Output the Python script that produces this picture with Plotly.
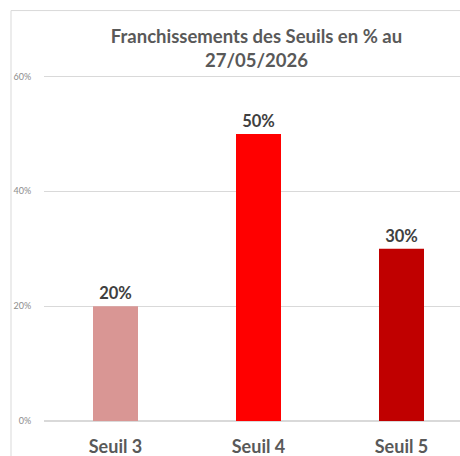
import plotly.graph_objects as go

categories = ["Seuil 3", "Seuil 4", "Seuil 5"]
values = [0.20, 0.50, 0.30]
labels = ["20%", "50%", "30%"]
colors = ["#D99694", "#FF0000", "#C00000"]
title_text = "Franchissements des Seuils en % au<br>27/05/2026"

W, H = 460, 456
L, R = 44, 0
y0_px, top_px = 421, 64.5
B = H - y0_px
T = top_px
plot_w = W - L - R
plot_h = y0_px - top_px
cat_px = 143.0
xr = [-0.5, -0.5 + plot_w / cat_px]

fig = go.Figure()
fig.add_trace(go.Bar(
    x=list(range(len(categories))), y=values, marker=dict(color=colors, line=dict(width=0)),
    width=45 / cat_px, text=labels, textposition="outside", cliponaxis=False,
    textfont=dict(family="Lato", size=16.5, color="#404040", weight="bold"),
))

fig.update_layout(
    width=W, height=H, margin=dict(l=L, r=R, t=T, b=B, autoexpand=False),
    paper_bgcolor="white", plot_bgcolor="white", showlegend=False,
    title=dict(text=title_text, x=(256.5 - L) / plot_w, xref="paper", xanchor="center",
               y=1 - 43 / H, yref="container", yanchor="middle", automargin=False,
               font=dict(family="Lato", size=18.5, color="#595959", weight="bold")),
    xaxis=dict(range=xr, tickmode="array", tickvals=list(range(len(categories))), ticktext=categories,
               showgrid=False, zeroline=False, showline=False, ticks="outside", ticklen=9,
               tickcolor="rgba(0,0,0,0)", automargin=False,
               tickfont=dict(family="Lato", size=18, color="#595959", weight="bold")),
    yaxis=dict(range=[0, 0.62], tickvals=[0, 0.2, 0.4, 0.6], tickformat=".0%",
               showgrid=True, gridcolor="#D9D9D9", gridwidth=1, zeroline=True, zerolinecolor="#D9D9D9",
               showline=False, ticks="outside", ticklen=10, tickcolor="rgba(0,0,0,0)", automargin=False,
               tickfont=dict(family="Lato", size=9, color="#8C8C8C")),
)

# chart border (left and top edges visible in crop)
bx0 = (11 - L) / plot_w
by1 = (y0_px - 10) / plot_h
fig.add_shape(type="rect", xref="paper", yref="paper", x0=bx0, x1=1.2, y0=-0.5, y1=by1,
              line=dict(color="#D9D9D9", width=1), fillcolor="rgba(0,0,0,0)", layer="below")

fig.write_html("out.html")
